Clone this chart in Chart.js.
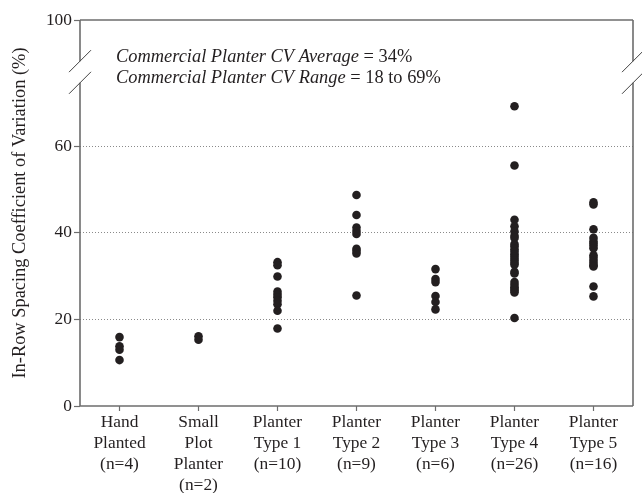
<!DOCTYPE html>
<html>
<head>
<meta charset="utf-8">
<script src="https://cdn.jsdelivr.net/npm/chart.js@4"></script>
<style>
  html, body { margin: 0; padding: 0; background: #fff; }
  #wrap { width: 642px; height: 493px; position: relative; }
</style>
</head>
<body>
<div id="wrap"><canvas id="chart"></canvas></div>
<script>
// Categories (multi-line tick labels)
const categories = [
    ['Hand', 'Planted', '(n=4)'],
    ['Small', 'Plot', 'Planter', '(n=2)'],
    ['Planter', 'Type 1', '(n=10)'],
    ['Planter', 'Type 2', '(n=9)'],
    ['Planter', 'Type 3', '(n=6)'],
    ['Planter', 'Type 4', '(n=26)'],
    ['Planter', 'Type 5', '(n=16)']
];

// CV values, per group
const handPlanted = [15.9, 13.8, 13.0, 10.6];
const smallPlot = [16.1, 15.3];
const planterType1 = [33.2, 32.5, 29.9, 26.4, 25.7, 25.1, 24.3, 23.5, 22.0, 17.9];
const planterType2 = [48.7, 44.1, 41.2, 40.4, 39.7, 36.3, 35.8, 35.2, 25.5];
const planterType3 = [31.6, 29.3, 28.6, 25.4, 24.0, 22.3];
const planterType4 = [69.2, 55.5, 43.0, 41.5, 40.3, 39.3, 38.8, 37.4, 36.9, 36.2, 35.6, 35.0, 34.5,
    34.0, 33.5, 33.0, 32.6, 31.0, 30.6, 28.6, 28.0, 27.4, 27.0, 26.6, 26.2, 20.3];
const planterType5 = [47.0, 46.5, 40.8, 38.8, 38.0, 37.5, 37.0, 36.4, 34.8, 34.2, 33.6, 33.0, 32.5,
    32.2, 27.6, 25.3];

const groups = [handPlanted, smallPlot, planterType1, planterType2, planterType3, planterType4, planterType5];

// Y axis: 0-60 shown normally, top of axis labelled 100 after the break
const yTicks = [0, 20, 40, 60];
const yTopValue = 89.1;
const yTopLabel = '100';
const breakLow = 74.6;
const breakHigh = 79.6;

const noteLines = [
    ['Commercial Planter CV Average', ' = 34%'],
    ['Commercial Planter CV Range', ' = 18 to 69%']
];

const serif = '"Liberation Serif", "DejaVu Serif", serif';
const ink = '#231f20';
const axisGray = '#6d6d6d';

// build points from the groups
let points = [];
groups.forEach((vals, i) => {
    vals.forEach(v => points.push({ x: i, y: v }));
});

// frame with axis breaks + the italic note
const framePlugin = {
    id: 'frame',
    afterDraw(chart) {
        const ctx = chart.ctx;
        const a = chart.chartArea;
        const y = chart.scales.y;
        const gTop = y.getPixelForValue(breakHigh);
        const gBot = y.getPixelForValue(breakLow);

        ctx.save();
        ctx.strokeStyle = axisGray;
        ctx.lineWidth = 1.6;
        ctx.beginPath();
        // top and bottom
        ctx.moveTo(a.left, a.top); ctx.lineTo(a.right, a.top);
        ctx.moveTo(a.left, a.bottom); ctx.lineTo(a.right, a.bottom);
        // left and right with a gap
        [a.left, a.right].forEach(x => {
            ctx.moveTo(x, a.top); ctx.lineTo(x, gTop);
            ctx.moveTo(x, gBot); ctx.lineTo(x, a.bottom);
        });
        ctx.stroke();

        // break slashes
        ctx.strokeStyle = '#444';
        ctx.lineWidth = 1;
        ctx.beginPath();
        [a.left, a.right].forEach(x => {
            [gTop, gBot].forEach(py => {
                ctx.moveTo(x - 11, py + 11);
                ctx.lineTo(x + 11, py - 11);
            });
        });
        ctx.stroke();

        // note text
        ctx.fillStyle = ink;
        ctx.textBaseline = 'alphabetic';
        ctx.textAlign = 'left';
        const baselines = [62, 82.5];
        noteLines.forEach((parts, i) => {
            let x = a.left + 36;
            ctx.font = 'italic 18.4px ' + serif;
            ctx.fillText(parts[0], x, baselines[i]);
            x += ctx.measureText(parts[0]).width;
            ctx.font = '18.4px ' + serif;
            ctx.fillText(parts[1], x, baselines[i]);
        });
        ctx.restore();
    }
};

const ctx = document.getElementById('chart').getContext('2d');
const chart = new Chart(ctx, {
    type: 'scatter',
    data: {
        datasets: [{
            data: points,
            backgroundColor: ink,
            borderWidth: 0,
            pointRadius: 4.3,
            pointHoverRadius: 4.3
        }]
    },
    options: {
        responsive: true,
        maintainAspectRatio: false,
        animation: false,
        layout: { padding: { top: 20, right: 9, left: 0, bottom: 0 } },
        plugins: {
            legend: { display: false },
            tooltip: { enabled: false }
        },
        scales: {
            x: {
                type: 'linear',
                min: -0.5,
                max: 6.5,
                afterBuildTicks: scale => {
                    scale.ticks = categories.map((c, i) => ({ value: i }));
                },
                afterFit: scale => { scale.height = 87; },
                border: { display: false },
                grid: {
                    drawOnChartArea: false,
                    tickLength: 5,
                    tickColor: axisGray,
                    tickWidth: 1.2
                },
                ticks: {
                    autoSkip: false,
                    maxRotation: 0,
                    padding: 1,
                    color: ink,
                    font: { family: serif, size: 17.4, lineHeight: 1.2 },
                    callback: value => categories[value]
                }
            },
            y: {
                min: 0,
                max: yTopValue,
                afterBuildTicks: scale => {
                    scale.ticks = yTicks.concat([yTopValue]).map(v => ({ value: v }));
                },
                afterFit: scale => { scale.width = 80; },
                border: { display: false, dash: [1, 2] },
                grid: {
                    color: c => (c.tick && c.tick.value > 0 && c.tick.value < yTopValue) ? '#8a8a8a' : 'rgba(0,0,0,0)',
                    lineWidth: 1,
                    tickLength: 6,
                    tickColor: axisGray,
                    tickWidth: 1.2,
                    tickBorderDash: []
                },
                ticks: {
                    padding: 2,
                    color: ink,
                    font: { family: serif, size: 17.4 },
                    callback: value => value > 80 ? yTopLabel : value
                },
                title: {
                    display: true,
                    text: 'In-Row Spacing Coefficient of Variation (%)',
                    color: ink,
                    font: { family: serif, size: 18.4 },
                    padding: { top: 9, bottom: 0 }
                }
            }
        }
    },
    plugins: [framePlugin]
});
</script>
</body>
</html>
